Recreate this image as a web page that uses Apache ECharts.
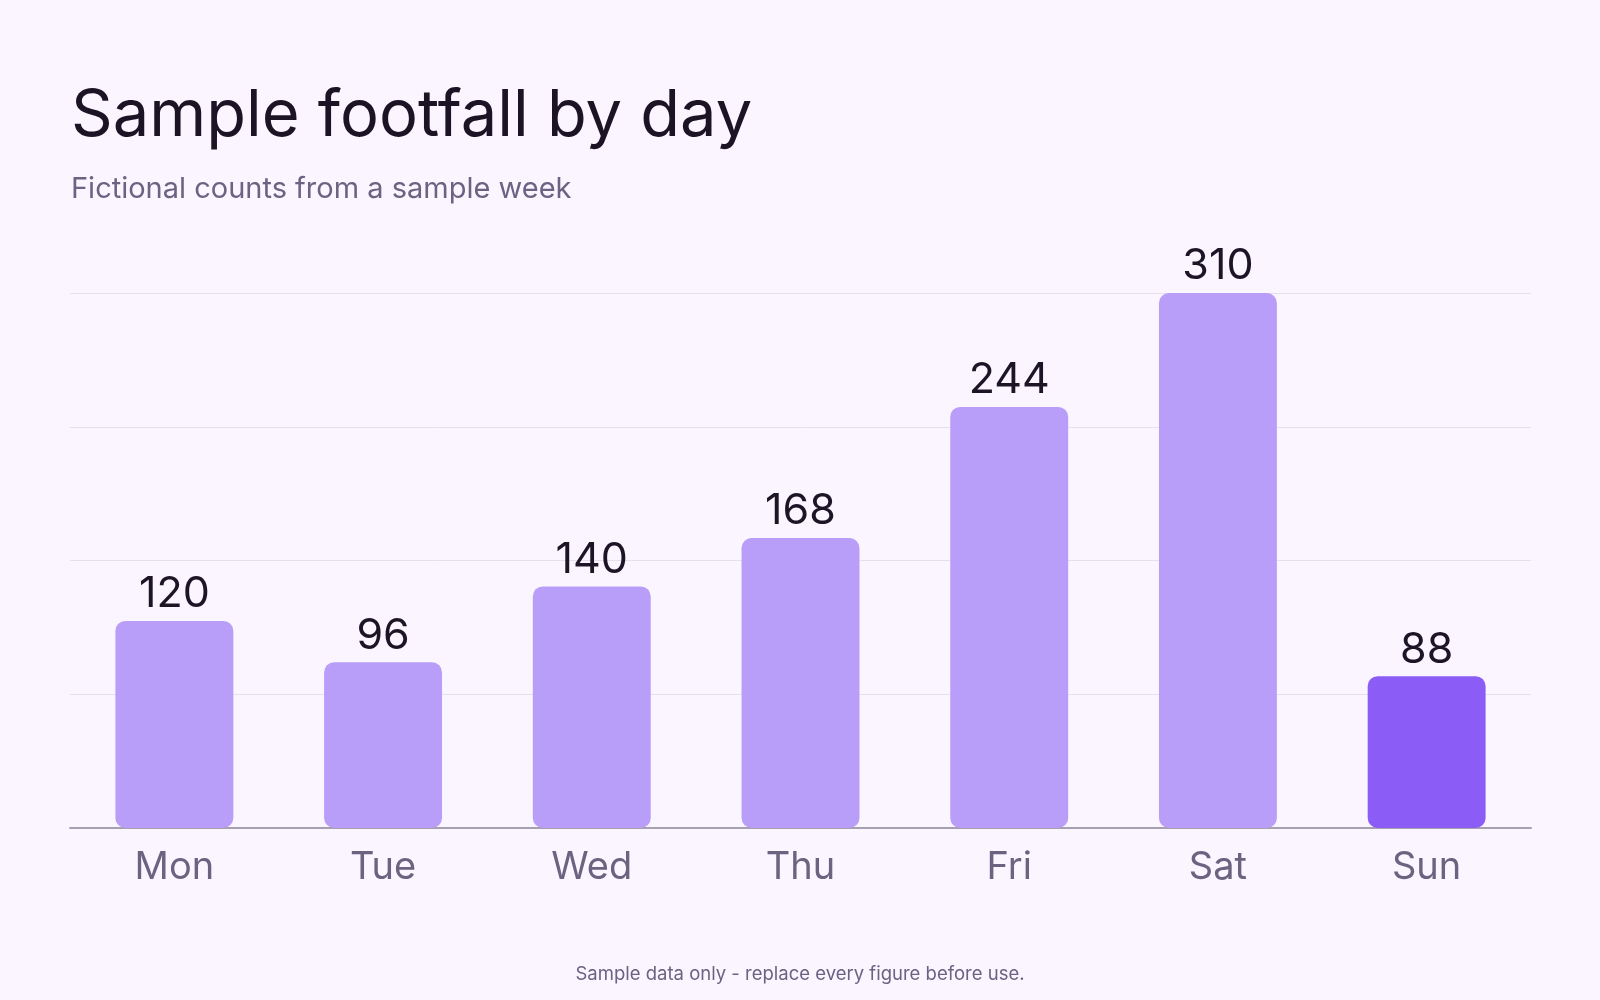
<!DOCTYPE html>
<html lang="en">
<head>
    <meta charset="UTF-8">
    <title>Sample footfall by day</title>
    <script src="https://cdn.jsdelivr.net/npm/echarts@6/dist/echarts.min.js"></script>
    <style>
        html, body { margin: 0; padding: 0; background: #faf5ff; }
        #chart { width: 1600px; height: 1000px; }
    </style>
</head>
<body>
<div id="chart"></div>
<script type="text/javascript">
    // data
    var days = ['Mon', 'Tue', 'Wed', 'Thu', 'Fri', 'Sat', 'Sun'];
    var footfall = [120, 96, 140, 168, 244, 310, 88];
    var highlightDay = 'Sun';

    var barColor = '#b89df9';
    var highlightColor = '#8b5cf6';

    var barData = footfall.map(function (v, i) {
        return {
            value: v,
            itemStyle: { color: days[i] === highlightDay ? highlightColor : barColor }
        };
    });

    var myChart = echarts.init(document.getElementById('chart'));
    var option = {
        backgroundColor: '#faf5ff',
        textStyle: { fontFamily: 'Inter' },
        title: [
            {
                text: 'Sample footfall by day',
                left: 66,
                top: 79,
                padding: 5,
                textStyle: { fontFamily: 'Inter', fontSize: 65, fontWeight: 'normal', color: '#1c1425' }
            },
            {
                text: 'Fictional counts from a sample week',
                left: 66,
                top: 170,
                textStyle: { fontFamily: 'Inter', fontSize: 29, fontWeight: 'normal', color: '#6b6382' }
            },
            {
                text: 'Sample data only - replace every figure before use.',
                left: 'center',
                top: 960,
                textStyle: { fontFamily: 'Inter', fontSize: 18.5, fontWeight: 'normal', color: '#6b6382' }
            }
        ],
        grid: {
            left: 70,
            right: 69,
            top: 293,
            bottom: 172,
            containLabel: false
        },
        xAxis: {
            type: 'category',
            data: days,
            axisTick: { show: false },
            axisLine: { lineStyle: { color: '#a6a0b0', width: 2 } },
            axisLabel: { fontFamily: 'Inter', fontSize: 38, color: '#6b6480', margin: 21 }
        },
        yAxis: {
            type: 'value',
            min: 0,
            max: 310,
            interval: 77.5,
            axisLabel: { show: false },
            axisLine: { show: false },
            axisTick: { show: false },
            splitLine: { lineStyle: { color: '#e6e0ee', width: 1 } }
        },
        series: [
            {
                type: 'bar',
                data: barData,
                barWidth: '56.5%',
                itemStyle: { borderRadius: 10 },
                label: {
                    show: true,
                    position: 'top',
                    distance: 5,
                    fontFamily: 'Inter',
                    fontSize: 43,
                    color: '#1d1526'
                }
            }
        ]
    };
    myChart.setOption(option);
</script>
</body>
</html>
